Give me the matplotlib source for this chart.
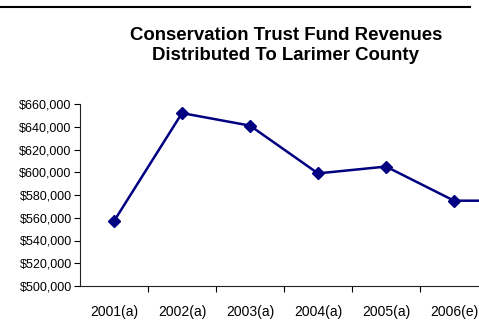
import matplotlib.pyplot as plt
import matplotlib.ticker as mticker
from matplotlib.lines import Line2D

plt.rcParams['font.family'] = ['Liberation Sans', 'DejaVu Sans']

# data (last year is cut off at the right edge)
years = ["2001(a)", "2002(a)", "2003(a)", "2004(a)", "2005(a)", "2006(e)", "2007(e)"]
revenues = [557000, 652000, 641000, 599000, 605000, 575000, 575000]
yticks = list(range(500000, 660001, 20000))

W, H = 479, 327
fig = plt.figure(figsize=(W / 100, H / 100), dpi=100)

# axes: left spine at x=80px, bottom at y=286px, top tick at y=104px
ax = fig.add_axes([80 / W, (H - 286) / H, 476 / W, (286 - 104) / H])
x = list(range(len(years)))
ax.plot(x, revenues, color="#000080", lw=1.8, marker="D", markersize=6.5,
        markerfacecolor="#000080", markeredgecolor="#000080", clip_on=False)

ax.set_xlim(-0.5, len(years) - 0.5)
ax.set_ylim(500000, 660000)
ax.set_yticks(yticks)
ax.yaxis.set_major_formatter(mticker.FuncFormatter(lambda v, p: "${:,.0f}".format(v)))
ax.set_xticks([i + 0.5 for i in range(len(years) - 1)])
ax.set_xticklabels([])
ax.set_xticks(x, minor=True)
ax.set_xticklabels(years, minor=True, fontsize=10)
ax.tick_params(axis="x", which="minor", length=0, pad=14)
ax.tick_params(axis="x", which="major", length=4, width=0.8, direction="out")
ax.tick_params(axis="y", length=4, width=0.8, direction="out", labelsize=9, pad=2)

for s in ["top", "right"]:
    ax.spines[s].set_visible(False)
for s in ["left", "bottom"]:
    ax.spines[s].set_linewidth(0.8)
    ax.spines[s].set_color("#222222")

fig.text(286 / W, 1 - 35 / H, "Conservation Trust Fund Revenues",
         ha="center", va="center", fontsize=13.4, fontweight="bold")
fig.text(286 / W, 1 - 56 / H, "Distributed To Larimer County",
         ha="center", va="center", fontsize=13.4, fontweight="bold")

# horizontal rule at the top of the page
fig.add_artist(Line2D([0, 470 / W], [1 - 7 / H, 1 - 7 / H], color="black", lw=1.5))

fig.savefig("out.png", dpi=100)
